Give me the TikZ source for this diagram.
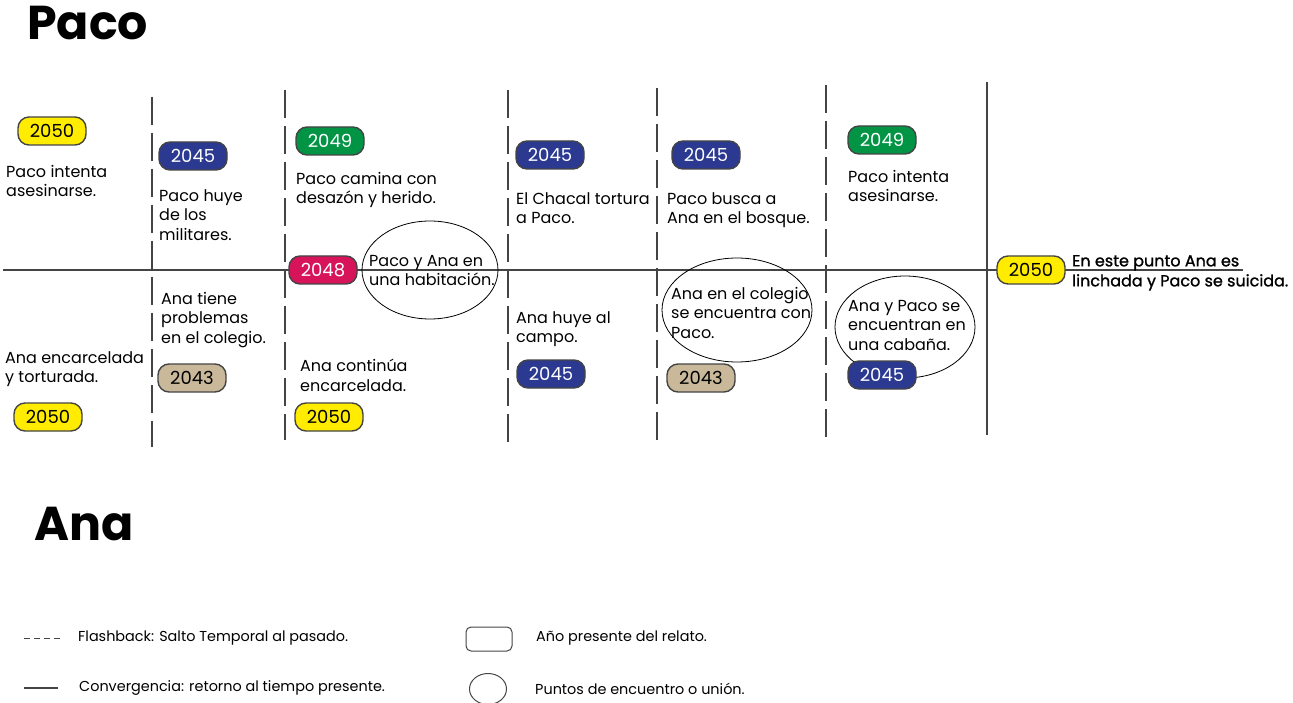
\documentclass[tikz,border=0pt]{standalone}
\usepackage{fontspec}
\setmainfont{Poppins}
\newfontfamily\popfake[FakeBold=1.2]{Poppins}
\usetikzlibrary{shapes.geometric}
\definecolor{ylw}{HTML}{FFEC00}
\definecolor{blu}{HTML}{2B3990}
\definecolor{grn}{HTML}{009444}
\definecolor{red}{HTML}{D7145A}
\definecolor{bei}{HTML}{C9B99A}
\definecolor{lin}{HTML}{444444}
\tikzset{
  pill/.style={draw=lin, line width=1.4pt, rounded corners=11pt, minimum width=68pt, minimum height=28pt, inner sep=0pt, font=\fontsize{18}{18}\selectfont},
  pilly/.style={pill, fill=ylw, text=black},
  pillb/.style={pill, fill=blu, text=white},
  pillg/.style={pill, fill=grn, text=white},
  pillr/.style={pill, fill=red, text=white},
  pillc/.style={pill, fill=bei, text=black},
  txt/.style={anchor=north west, align=left, inner sep=0pt, font=\fontsize{16}{19.5}\selectfont},
  meet/.style={draw=black, line width=0.8pt, ellipse, inner sep=0pt},
  vdash/.style={draw=lin, line width=1.3pt, dash pattern=on 28pt off 8pt},
  leg/.style={anchor=west, inner sep=0pt, font=\fontsize{14.4}{16}\selectfont},
  title/.style={anchor=base west, inner sep=0pt, font=\bfseries\fontsize{47.5}{47.5}\selectfont},
}
\begin{document}
\begin{tikzpicture}[x=1pt,y=-1pt]
\useasboundingbox (0,0) rectangle (1293,703);
% titles
\node[title] (tpaco) at (27,40) {Paco};
\node[title] (tana) at (34,540) {Ana};
% time line
\coordinate (hl) at (3,270);
\coordinate (hr) at (1243,270);
\draw[draw=lin, line width=1.4pt] (hl) -- (hr);
% dashed verticals
\foreach \x/\a/\b [count=\i] in {152/97/447, 285/90/440, 508/90/442, 657/88/440, 826/85/437}{
  \coordinate (v\i t) at (\x,\a);
  \coordinate (v\i b) at (\x,\b);
  \draw[vdash] (v\i t) -- (v\i b);
}
\coordinate (vst) at (987,82);
\coordinate (vsb) at (987,435);
\draw[draw=lin, line width=1.4pt] (vst) -- (vsb);
% meeting ellipses
\node[meet, minimum width=136pt, minimum height=98pt] (e1) at (430,270) {};
\node[meet, minimum width=150pt, minimum height=104pt] (e2) at (737,310) {};
\node[meet, minimum width=140pt, minimum height=102pt] (e3) at (905,327) {};
% pills top
\node[pilly] (p1) at (52,131) {2050};
\node[pillb] (p2) at (193,156) {2045};
\node[pillg] (p3) at (330,141) {2049};
\node[pillb] (p4) at (550,155) {2045};
\node[pillb] (p5) at (706,155) {2045};
\node[pillg] (p6) at (882,140) {2049};
\node[pillr] (p7) at (323,270) {2048};
\node[pilly] (p8) at (1031,270) {2050};
% pills bottom
\node[pillc] (q1) at (192,378) {2043};
\node[pilly] (q2) at (48,417) {2050};
\node[pilly] (q3) at (329,417) {2050};
\node[pillb] (q4) at (551,374) {2045};
\node[pillc] (q5) at (701,378) {2043};
\node[pillb] (q6) at (882,375) {2045};
% texts top
\node[txt] (a1) at (6,165) {Paco intenta\\asesinarse.};
\node[txt] (a2) at (159,189) {Paco huye\\de los\\militares.};
\node[txt] (a3) at (296,172) {Paco camina con\\desazón y herido.};
\node[txt] (a4) at (516,192) {El Chacal tortura\\a Paco.};
\node[txt] (a5) at (667,192) {Paco busca a\\Ana en el bosque.};
\node[txt] (a6) at (848,170) {Paco intenta\\asesinarse.};
% texts bottom
\node[txt] (b1) at (161,292) {Ana tiene\\problemas\\en el colegio.};
\node[txt] (b2) at (5,351) {Ana encarcelada\\y torturada.};
\node[txt] (b3) at (300,359) {Ana continúa\\encarcelada.};
\node[txt] (b4) at (516,311) {Ana huye al\\campo.};
\node[txt] (b5) at (671,287) {Ana en el colegio\\se encuentra con\\Paco.};
\node[txt] (b6) at (848,300) {Ana y Paco se\\encuentran en\\una cabaña.};
\node[txt] (c1) at (369,255) {Paco y Ana en\\una habitación.};
\node[txt, font=\popfake\fontsize{16}{20}\selectfont] (c2) at (1072,255) {En este punto Ana es\\linchada y Paco se suicida.};
% legend
\coordinate (l1a) at (24,638);
\coordinate (l1b) at (60,638);
\draw[draw=lin, line width=0.9pt, dash pattern=on 6pt off 4pt] (l1a) -- (l1b);
\node[leg] (lt1) at (78,638) {Flashback: Salto Temporal al pasado.};
\coordinate (l2a) at (24,688);
\coordinate (l2b) at (58,688);
\draw[draw=lin, line width=1.2pt] (l2a) -- (l2b);
\node[leg] (lt2) at (79,688) {Convergencia: retorno al tiempo presente.};
\node[draw=lin, line width=1pt, rounded corners=5pt, minimum width=46pt, minimum height=24pt, inner sep=0pt] (lr) at (489,639) {};
\node[leg] (lt3) at (536,638) {Año presente del relato.};
\node[draw=lin, line width=1pt, ellipse, minimum width=37pt, minimum height=31pt, inner sep=0pt] (lc) at (488,689) {};
\node[leg] (lt4) at (535,689) {Puntos de encuentro o unión.};
\end{tikzpicture}
\end{document}
